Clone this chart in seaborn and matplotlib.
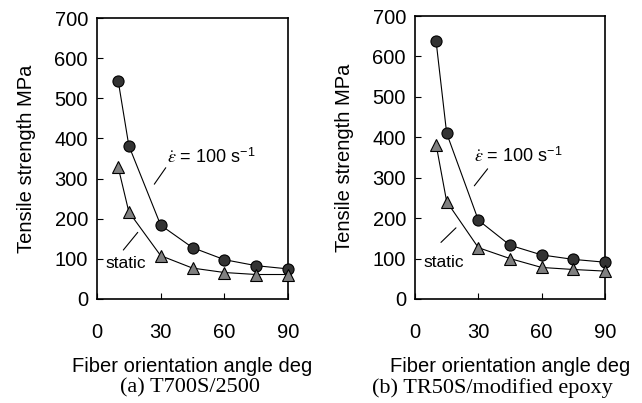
import matplotlib
matplotlib.use("Agg")
import matplotlib.pyplot as plt
import seaborn as sns
import numpy as np

# fiber orientation angle (deg)
angle = [10, 15, 30, 45, 60, 75, 90]

# (a) T700S/2500
a_dyn = [543, 382, 184, 128, 98, 83, 75]
a_static = [328, 217, 108, 77, 66, 61, 61]

# (b) TR50S/modified epoxy
b_dyn = [637, 410, 195, 133, 109, 98, 91]
b_static = [382, 241, 127, 100, 78, 73, 69]

captions = ["(a) T700S/2500", "(b) TR50S/modified epoxy"]

# annotation text position and leader line (data coords)
a_eps_xy = (33, 354)
a_eps_line = [(27.0, 286), (32.4, 327)]
a_sta_xy = (4.2, 89)
a_sta_line = [(12.4, 122), (19.2, 166)]
b_eps_xy = (28.1, 352)
b_eps_line = [(28.1, 280), (34.4, 322)]
b_sta_xy = (4.1, 90)
b_sta_line = [(12.3, 140), (19.4, 176)]

sns.set_style("white")
plt.rcParams['font.family'] = ['Liberation Sans', 'DejaVu Sans']
plt.rcParams['mathtext.fontset'] = 'stix'
plt.rcParams['text.color'] = 'black'
plt.rcParams['axes.labelcolor'] = 'black'
plt.rcParams['xtick.color'] = 'black'
plt.rcParams['ytick.color'] = 'black'

fig = plt.figure(figsize=(6.42, 4.03), dpi=100)
ax1 = fig.add_axes([97/642, 104/403, 191/642, 281/403])
ax2 = fig.add_axes([415/642, 104/403, 190/642, 283/403])

EPS = r'$\dot{\varepsilon}$ = 100 s$^{\mathregular{-1}}$'

panels = [
    (ax1, a_dyn, a_static, a_eps_xy, a_eps_line, a_sta_xy, a_sta_line),
    (ax2, b_dyn, b_static, b_eps_xy, b_eps_line, b_sta_xy, b_sta_line),
]

for ax, dyn, sta, exy, eline, sxy, sline in panels:
    sns.lineplot(x=angle, y=dyn, ax=ax, color='black', lw=0.8, marker='o',
                 ms=8, markerfacecolor='#333333', markeredgecolor='black',
                 markeredgewidth=0.8, zorder=3, clip_on=False)
    sns.lineplot(x=angle, y=sta, ax=ax, color='black', lw=0.8, marker='^',
                 ms=9, markerfacecolor='#808080', markeredgecolor='black',
                 markeredgewidth=0.8, zorder=3, clip_on=False)
    ax.set_xlim(0, 90)
    ax.set_ylim(0, 700)
    ax.set_xticks([0, 30, 60, 90])
    ax.set_yticks(np.arange(0, 701, 100))
    ax.tick_params(axis='x', direction='in', length=4.5, width=0.8,
                   pad=17, labelsize=14.5, bottom=True)
    ax.tick_params(axis='y', direction='in', length=4.5, width=0.8,
                   pad=6.5, labelsize=14.5, left=True)
    for s in ax.spines.values():
        s.set_linewidth(1.2)
        s.set_color('black')
    ax.set_xlabel("Fiber orientation angle deg", fontsize=14.5, labelpad=11)
    ax.set_ylabel("Tensile strength MPa", fontsize=14.5, labelpad=13)
    ax.text(exy[0], exy[1], EPS, fontsize=13, va='center', ha='left')
    ax.text(sxy[0], sxy[1], "static", fontsize=12.5, va='center', ha='left')
    ax.annotate("", xy=eline[1], xytext=eline[0],
                arrowprops=dict(arrowstyle='-', lw=0.8, color='black',
                                shrinkA=0, shrinkB=0))
    ax.annotate("", xy=sline[1], xytext=sline[0],
                arrowprops=dict(arrowstyle='-', lw=0.8, color='black',
                                shrinkA=0, shrinkB=0))

fig.text(190/642, 15/403, captions[0], fontsize=16, ha='center', va='center',
         family=['Liberation Serif', 'DejaVu Serif'])
fig.text(492/642, 15/403, captions[1], fontsize=16, ha='center', va='center',
         family=['Liberation Serif', 'DejaVu Serif'])

fig.savefig("out.png", dpi=100)
